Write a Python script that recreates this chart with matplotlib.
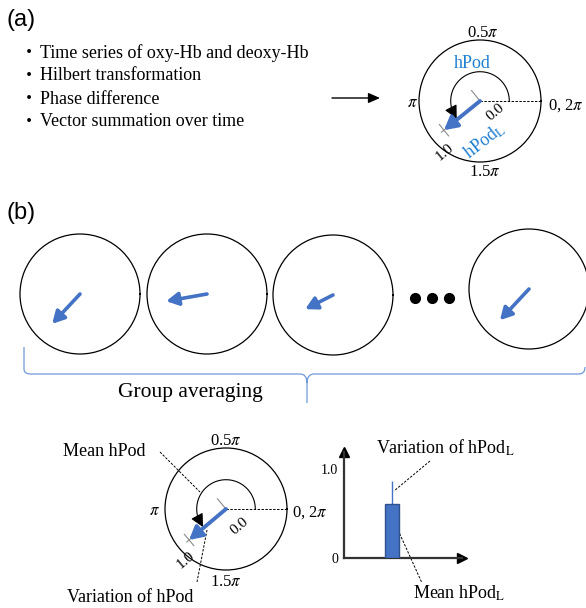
import numpy as np
import matplotlib
matplotlib.use("Agg")
import matplotlib.pyplot as plt
from matplotlib.path import Path
from matplotlib.patches import PathPatch

plt.rcParams['font.family'] = ['Liberation Serif', 'DejaVu Serif']
plt.rcParams['mathtext.fontset'] = 'stix'

# ---------------- data ----------------
steps = ["Time series of oxy-Hb and deoxy-Hb",
         "Hilbert transformation",
         "Phase difference",
         "Vector summation over time"]
angle_labels = ["0.5$\\pi$", "$\\pi$", "0, 2$\\pi$", "1.5$\\pi$"]
radial_ticks = ["0.0", "1.0"]

# panel (a): example hPod (deg) and hPod_L (fraction of circle radius)
a_hpod_deg = 219
a_hpodL = 0.76

# panel (b): individual vectors (deg, length)
b_hpod_deg = [227, 190, 207, 227]
b_hpodL = [0.68, 0.69, 0.52, 0.71]

# panel (b) result: mean vector
mean_hpod_deg = 220
mean_hpodL = 0.79

# bar chart: mean hPod_L and its variation
bar_mean = [0.61]
bar_var = [0.26]
bar_ticks = [0, 1.0]
bar_ticklabels = ["0", "1.0"]

# ---------------- layout ----------------
W, H = 586, 608
BLUE = '#4472C4'
TBLUE = '#1f7fd0'
fig = plt.figure(figsize=(W / 100, H / 100), dpi=100)
bg = fig.add_axes([0, 0, 1, 1])
bg.set_xlim(0, W)
bg.set_ylim(H, 0)
bg.axis('off')


def polar_at(cx, cy, r):
    ax = fig.add_axes([(cx - r) / W, 1 - (cy + r) / H, 2 * r / W, 2 * r / H],
                      projection='polar')
    ax.set_ylim(0, 1)
    ax.set_xticks([])
    ax.set_yticks([])
    ax.grid(False)
    ax.patch.set_alpha(0)
    ax.spines['polar'].set_linewidth(0.9)
    ax.spines['polar'].set_color('black')
    return ax


def vec(ax, deg, L, lw=2.6, ms=13):
    th = np.deg2rad(deg)
    ax.annotate('', xy=(th, L), xytext=(th, 0),
                arrowprops=dict(arrowstyle='-|>,head_length=0.55,head_width=0.3',
                                lw=lw, color=BLUE, mutation_scale=ms,
                                shrinkA=0, shrinkB=0), zorder=5)


def detailed(ax, deg, L):
    th = np.deg2rad(deg)
    # dashed reference line at 0
    ax.plot([0, 0], [0, 1], color='k', lw=0.7, ls=(0, (2.5, 1.5)))
    # angle arc with arrowhead
    arc = np.linspace(0, th - 0.36, 120)
    ax.plot(arc, np.full_like(arc, 0.48), color='k', lw=0.8)
    ax.annotate('', xy=(th - 0.03, 0.48), xytext=(th - 0.38, 0.48),
                arrowprops=dict(arrowstyle='-|>,head_length=0.8,head_width=0.4',
                                lw=0.8, color='k', mutation_scale=10,
                                shrinkA=0, shrinkB=0))
    # radial axis with ticks
    g = '#8a8a8a'
    ax.plot([th, th], [0, L + 0.05], color=g, lw=0.8)
    h = 0.22
    ax.plot([th - np.pi / 2, 0, th - np.pi / 2], [h, 0, 0], color=g, lw=0.8)
    h2 = 0.12
    rr = np.hypot(L, h2)
    d = np.arctan(h2 / L)
    ax.plot([th - d, th + d], [rr, rr], color=g, lw=0.8)
    vec(ax, deg, L, lw=2.8, ms=14)


# ---------------- panel (a) ----------------
bg.text(6, 20, "(a)", family='Liberation Sans', fontsize=17, va='center', ha='left')
for i, s in enumerate(steps):
    y = 53 + 23 * i
    bg.text(29, y, "・", family=['Noto Sans CJK JP', 'DejaVu Sans'], fontsize=13,
            ha='center', va='center')
    bg.text(40, y, s, fontsize=13, ha='left', va='center')
bg.annotate('', xy=(380, 98), xytext=(332, 98),
            arrowprops=dict(arrowstyle='-|>,head_length=0.5,head_width=0.22',
                            lw=1.0, color='k', mutation_scale=14,
                            shrinkA=0, shrinkB=0))

axA = polar_at(480, 101, 61)
detailed(axA, a_hpod_deg, a_hpodL)
bg.text(483, 33, angle_labels[0], fontsize=12, ha='center', va='center')
bg.text(412, 103, angle_labels[1], fontsize=12, ha='center', va='center')
bg.text(548, 106, angle_labels[2], fontsize=12, ha='left', va='center')
bg.text(485, 172, angle_labels[3], fontsize=12, ha='center', va='center')
bg.text(472, 63, "hPod", fontsize=13, color=TBLUE, ha='center', va='center')
bg.text(495, 112, radial_ticks[0], fontsize=11, rotation=40, ha='center', va='center')
bg.text(445, 152, radial_ticks[1], fontsize=11, rotation=40, ha='center', va='center')
bg.text(484, 141, "hPod$_{\\mathrm{L}}$", fontsize=13, color=TBLUE, rotation=38,
        ha='center', va='center')

# ---------------- panel (b) ----------------
bg.text(6, 213, "(b)", family='Liberation Sans', fontsize=17, va='center', ha='left')
centers = [(80, 294), (207, 294), (333, 295), (529, 289)]
for (cx, cy), d, L in zip(centers, b_hpod_deg, b_hpodL):
    ax = polar_at(cx, cy, 60)
    vec(ax, d, L)
dots_x = 432 + 17 * np.array([-1, 0, 1])
bg.plot(dots_x, np.full(3, 298), 'o', ms=7, color='k')

# brace
bc = '#7099d8'
verts = [(24, 347), (24, 369), (24, 374), (31, 374), (300, 374), (307, 374), (307, 383),
         (307, 403),
         (307, 383), (307, 374), (314, 374), (579, 374), (585, 374), (585, 367)]
codes = [Path.MOVETO, Path.LINETO, Path.CURVE3, Path.CURVE3, Path.LINETO, Path.CURVE3,
         Path.CURVE3, Path.LINETO,
         Path.MOVETO, Path.CURVE3, Path.CURVE3, Path.LINETO, Path.CURVE3, Path.CURVE3]
bg.add_patch(PathPatch(Path(verts, codes), fc='none', ec=bc, lw=0.9))
bg.text(190, 393, "Group averaging", fontsize=15.5, ha='center', va='center')

# mean result circle
axM = polar_at(226, 509, 61)
detailed(axM, mean_hpod_deg, mean_hpodL)
bg.text(226, 441, angle_labels[0], fontsize=12, ha='center', va='center')
bg.text(154, 511, angle_labels[1], fontsize=12, ha='center', va='center')
bg.text(292, 513, angle_labels[2], fontsize=12, ha='left', va='center')
bg.text(226, 582, angle_labels[3], fontsize=12, ha='center', va='center')
bg.text(239, 526, radial_ticks[0], fontsize=11, rotation=40, ha='center', va='center')
bg.text(186, 560, radial_ticks[1], fontsize=11, rotation=40, ha='center', va='center')
bg.text(63, 452, "Mean hPod", fontsize=13, ha='left', va='center')
bg.plot([160, 200], [452, 492], color='k', lw=0.7, ls=(0, (2.5, 1.5)))
bg.text(67, 598, "Variation of hPod", fontsize=13, ha='left', va='center')
bg.plot([197, 207], [582, 530], color='k', lw=0.7, ls=(0, (2.5, 1.5)))

# bar chart
bx0, by0, bw, bh = 344, 558, 118, 106
axB = fig.add_axes([bx0 / W, 1 - by0 / H, bw / W, bh / H])
axB.set_xlim(0, 1)
axB.set_ylim(0, bh / 89)
axB.patch.set_alpha(0)
for s in ['top', 'right']:
    axB.spines[s].set_visible(False)
for s in ['left', 'bottom']:
    axB.spines[s].set_linewidth(1.6)
    axB.spines[s].set_color('#333333')
axB.bar([0.407], bar_mean, width=0.12, color=BLUE, edgecolor='#2f528f', lw=1.0, zorder=3)
axB.errorbar([0.407], bar_mean, yerr=[[0], bar_var], fmt='none', ecolor=BLUE,
             elinewidth=1.0, capsize=0, zorder=2)
axB.set_xticks([])
axB.set_yticks(bar_ticks)
axB.set_yticklabels(bar_ticklabels, fontsize=10)
axB.tick_params(axis='y', length=0, pad=4)
axB.plot(1, 0, '>', color='k', ms=7, transform=axB.get_yaxis_transform(), clip_on=False)
axB.plot(0, 1, '^', color='k', ms=7, transform=axB.get_xaxis_transform(), clip_on=False)

bg.text(376, 448, "Variation of hPod$_{\\mathrm{L}}$", fontsize=13, ha='left', va='center')
bg.plot([430, 394], [461, 491], color='k', lw=0.7, ls=(0, (2.5, 1.5)))
bg.text(413, 593, "Mean hPod$_{\\mathrm{L}}$", fontsize=13, ha='left', va='center')
bg.plot([398, 422], [530, 583], color='k', lw=0.7, ls=(0, (2.5, 1.5)))

fig.savefig("out.png", dpi=100)
